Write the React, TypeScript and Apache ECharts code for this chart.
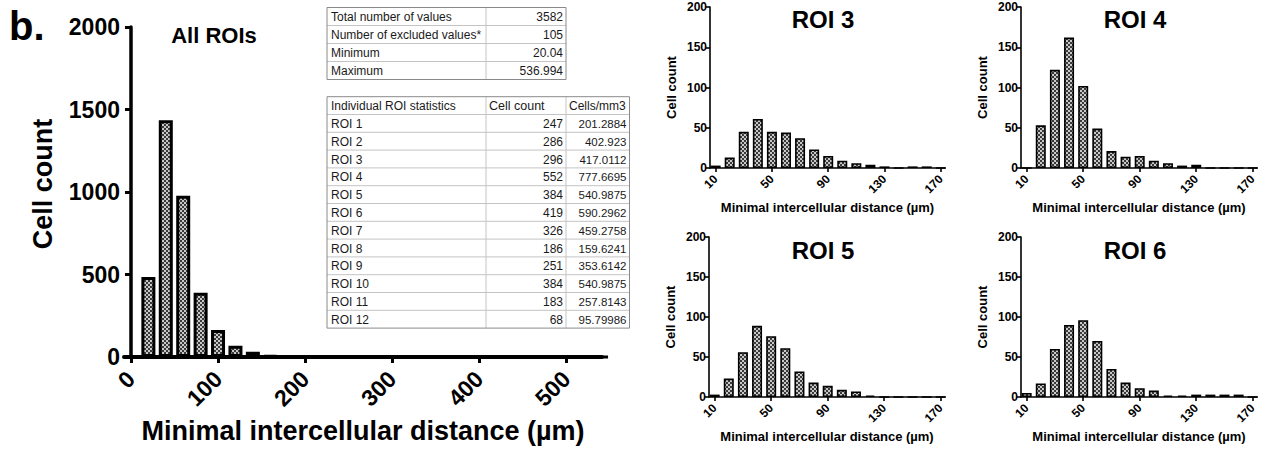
import React, { useEffect, useRef } from "react";
import * as echarts from "echarts";

const FONT = 'Arial, "Liberation Sans", sans-serif';

// ---- All ROIs histogram ----
const mainBins = [0, 20, 40, 60, 80, 100, 120, 140, 160, 180, 200, 220, 240, 260, 280, 300, 320, 340, 360, 380, 400, 420, 440, 460, 480, 500, 520, 540];
const mainCounts = [0, 485, 1435, 978, 390, 163, 68, 32, 9, 6, 5, 4, 6, 5, 3, 2, 2, 2, 1, 1, 1, 2, 1, 1, 1, 1, 1, 1];
const mainXTicks = [0, 100, 200, 300, 400, 500];

// ---- Individual ROI histograms ----
const roiBins = [10, 20, 30, 40, 50, 60, 70, 80, 90, 100, 110, 120, 130, 140, 150, 160, 170];
const roi3 = [3, 13, 45, 61, 45, 44, 37, 23, 15, 9, 6, 4, 2, 0, 2, 2, 0];
const roi4 = [0, 53, 122, 162, 102, 49, 21, 14, 15, 9, 6, 3, 4, 0, 0, 0, 0];
const roi5 = [3, 23, 56, 89, 76, 61, 32, 18, 14, 9, 7, 2, 0, 0, 0, 0, 0];
const roi6 = [5, 17, 60, 90, 96, 70, 35, 18, 11, 8, 2, 2, 3, 3, 3, 3, 0];
const roiXTicks = [10, 50, 90, 130, 170];

// ---- Tables ----
const summaryLabels = ["Total number of values", "Number of excluded values*", "Minimum", "Maximum"];
const summaryValues = ["3582", "105", "20.04", "536.994"];
const roiHeader = ["Individual ROI statistics", "Cell count", "Cells/mm3"];
const roiNames = ["ROI 1", "ROI 2", "ROI 3", "ROI 4", "ROI 5", "ROI 6", "ROI 7", "ROI 8", "ROI 9", "ROI 10", "ROI 11", "ROI 12"];
const roiCounts = ["247", "286", "296", "552", "384", "419", "326", "186", "251", "384", "183", "68"];
const roiDensity = ["201.2884", "402.923", "417.0112", "777.6695", "540.9875", "590.2962", "459.2758", "159.6241", "353.6142", "540.9875", "257.8143", "95.79986"];

function makePattern(): any {
  try {
    const c = document.createElement("canvas");
    c.width = 4;
    c.height = 4;
    const ctx = c.getContext("2d");
    if (!ctx) return "#8c8c8c";
    ctx.fillStyle = "#c8c8c8";
    ctx.fillRect(0, 0, 4, 4);
    ctx.fillStyle = "#3a3a3a";
    ctx.fillRect(0, 0, 2, 2);
    ctx.fillRect(2, 2, 2, 2);
    return { image: c, repeat: "repeat" };
  } catch (e) {
    return "#8c8c8c";
  }
}

function txt(text: string, x: number, y: number, size: number, align: string, opts: any = {}) {
  return {
    type: "text",
    silent: true,
    style: {
      text,
      x,
      y,
      font: `${opts.weight || "normal"} ${size}px ${opts.family || FONT}`,
      fill: opts.color || "#1a1a1a",
      align,
      textAlign: align,
      verticalAlign: opts.va || "middle",
      textVerticalAlign: opts.va || "middle",
    },
  };
}

function hline(x1: number, x2: number, y: number, color: string) {
  return { type: "line", silent: true, shape: { x1, y1: y, x2, y2: y }, style: { stroke: color, lineWidth: 1 } };
}
function vline(x: number, y1: number, y2: number, color: string) {
  return { type: "line", silent: true, shape: { x1: x, y1, x2: x, y2 }, style: { stroke: color, lineWidth: 1 } };
}

function buildTables() {
  const els: any[] = [];
  const inner = "#c4c4c4";
  const outer = "#8a8a8a";
  // table 1
  const t1x = [327, 486, 566];
  const t1top = 7.5;
  const rh1 = 18;
  const t1bottom = t1top + rh1 * summaryLabels.length;
  for (let i = 1; i < summaryLabels.length; i++) els.push(hline(t1x[0], t1x[2], t1top + rh1 * i, inner));
  els.push(vline(t1x[1], t1top, t1bottom, inner));
  els.push({ type: "rect", silent: true, shape: { x: t1x[0], y: t1top, width: t1x[2] - t1x[0], height: t1bottom - t1top }, style: { fill: "none", stroke: outer, lineWidth: 1 } });
  summaryLabels.forEach((l, i) => {
    const cy = t1top + rh1 * i + rh1 / 2 + 0.5;
    els.push(txt(l, t1x[0] + 4, cy, 12, "left"));
    els.push(txt(summaryValues[i], t1x[2] - 3, cy, 12, "right"));
  });
  // table 2
  const t2x = [327, 486, 566, 629.5];
  const t2top = 96.7;
  const rh2 = 17.8;
  const nrows = roiNames.length + 1;
  const t2bottom = t2top + rh2 * nrows;
  for (let i = 1; i < nrows; i++) els.push(hline(t2x[0], t2x[3], t2top + rh2 * i, inner));
  els.push(vline(t2x[1], t2top, t2bottom, inner));
  els.push(vline(t2x[2], t2top, t2bottom, inner));
  els.push({ type: "rect", silent: true, shape: { x: t2x[0], y: t2top, width: t2x[3] - t2x[0], height: t2bottom - t2top }, style: { fill: "none", stroke: outer, lineWidth: 1 } });
  const hy = t2top + rh2 / 2 + 0.5;
  els.push(txt(roiHeader[0], t2x[0] + 4, hy, 12, "left"));
  els.push(txt(roiHeader[1], t2x[1] + 3, hy, 12.5, "left"));
  els.push(txt(roiHeader[2], t2x[2] + 3, hy, 12, "left"));
  roiNames.forEach((n, i) => {
    const cy = t2top + rh2 * (i + 1) + rh2 / 2 + 0.5;
    els.push(txt(n, t2x[0] + 4, cy, 12, "left"));
    els.push(txt(roiCounts[i], t2x[2] - 3, cy, 12, "right"));
    els.push(txt(roiDensity[i], t2x[3] - 3, cy, 11.5, "right"));
  });
  return els;
}

export default function App() {
  const ref = useRef<HTMLDivElement>(null);
  useEffect(() => {
    if (!ref.current) return;
    const chart = echarts.init(ref.current, null, { renderer: "svg" });
    const pattern = makePattern();
    const plain = (v: number) => String(v);

    const grids = [
      { left: 124, top: 27, width: 478, height: 330 },
      { left: 710, top: 7, width: 235, height: 161 },
      { left: 1021, top: 7, width: 236, height: 161 },
      { left: 709, top: 237, width: 236, height: 160 },
      { left: 1021, top: 237, width: 236, height: 160 },
    ].map((g) => ({ ...g, outerBoundsMode: "none", containLabel: false }));

    const smallX = (gi: number) => ({
      type: "value",
      gridIndex: gi,
      min: 6,
      max: 173,
      axisLine: { show: true, onZero: false, lineStyle: { color: "#000", width: 1.6 } },
      axisTick: { show: true, customValues: roiXTicks, length: 4, lineStyle: { color: "#000", width: 1.6 } },
      axisLabel: { customValues: roiXTicks, rotate: 45, fontSize: 12, fontWeight: "bold", color: "#000", margin: 9, fontFamily: FONT, formatter: plain },
      splitLine: { show: false },
      name: "Minimal intercellular distance (µm)",
      nameLocation: "middle",
      nameGap: 33,
      nameTextStyle: { fontSize: 13, fontWeight: "bold", color: "#000", fontFamily: FONT },
    });
    const smallY = (gi: number) => ({
      type: "value",
      gridIndex: gi,
      min: 0,
      max: 200,
      interval: 50,
      axisLine: { show: true, lineStyle: { color: "#000", width: 1.6 } },
      axisTick: { show: true, length: 4, lineStyle: { color: "#000", width: 1.6 } },
      axisLabel: { fontSize: 12, fontWeight: "bold", color: "#000", margin: 3, fontFamily: FONT, formatter: plain },
      splitLine: { show: false },
      name: "Cell count",
      nameLocation: "middle",
      nameRotate: 90,
      nameGap: 32,
      nameTextStyle: { fontSize: 13, fontWeight: "bold", color: "#000", fontFamily: FONT },
    });

    const roiSeries = [roi3, roi4, roi5, roi6].map((vals, k) => ({
      type: "bar",
      name: `ROI ${k + 3}`,
      xAxisIndex: k + 1,
      yAxisIndex: k + 1,
      barWidth: 10,
      data: roiBins.map((b, i) => [b, vals[i]]),
      itemStyle: { color: pattern, borderColor: "#000", borderWidth: 1.6 },
    }));

    const titles = [
      txt("All ROIs", 214, 35, 22, "center", { weight: "bold", color: "#000" }),
      txt("ROI 3", 823, 19, 24, "center", { weight: "bold", color: "#000" }),
      txt("ROI 4", 1135, 19, 24, "center", { weight: "bold", color: "#000" }),
      txt("ROI 5", 823, 250, 24, "center", { weight: "bold", color: "#000" }),
      txt("ROI 6", 1135, 250, 24, "center", { weight: "bold", color: "#000" }),
      txt("b.", 9, 26, 40, "left", { weight: "bold", color: "#000" }),
    ];

    chart.setOption({
      animation: false,
      backgroundColor: "#fff",
      textStyle: { fontFamily: FONT },
      grid: grids,
      xAxis: [
        {
          type: "value",
          gridIndex: 0,
          min: -8,
          max: 541,
          axisLine: { show: true, onZero: false, lineStyle: { color: "#000", width: 4 } },
          axisTick: { show: true, customValues: mainXTicks, length: 6, lineStyle: { color: "#000", width: 3 } },
          axisLabel: { customValues: mainXTicks, rotate: 45, fontSize: 23, fontWeight: "bold", color: "#000", margin: 18, fontFamily: FONT, formatter: plain },
          splitLine: { show: false },
          name: "Minimal intercellular distance (µm)",
          nameLocation: "middle",
          nameGap: 60,
          nameTextStyle: { fontSize: 27, fontWeight: "bold", color: "#000", fontFamily: FONT },
        },
        smallX(1),
        smallX(2),
        smallX(3),
        smallX(4),
      ],
      yAxis: [
        {
          type: "value",
          gridIndex: 0,
          min: 0,
          max: 2000,
          interval: 500,
          axisLine: { show: true, lineStyle: { color: "#000", width: 3.5 } },
          axisTick: { show: true, length: 6, lineStyle: { color: "#000", width: 3 } },
          axisLabel: { fontSize: 23, fontWeight: "bold", color: "#000", margin: 4, fontFamily: FONT, formatter: plain },
          splitLine: { show: false },
          name: "Cell count",
          nameLocation: "middle",
          nameRotate: 90,
          nameGap: 68,
          nameTextStyle: { fontSize: 27, fontWeight: "bold", color: "#000", fontFamily: FONT, padding: [0, 0, 0, 16] },
        },
        smallY(1),
        smallY(2),
        smallY(3),
        smallY(4),
      ],
      series: [
        {
          type: "bar",
          name: "All ROIs",
          xAxisIndex: 0,
          yAxisIndex: 0,
          barWidth: 14,
          data: mainBins.map((b, i) => [b, mainCounts[i]]),
          itemStyle: { color: pattern, borderColor: "#000", borderWidth: 3 },
        },
        ...roiSeries,
      ],
      graphic: { elements: [...buildTables(), ...titles] },
    });
    return () => chart.dispose();
  }, []);
  return <div ref={ref} style={{ position: "fixed", left: 0, top: 0, width: 1265, height: 451, background: "#fff" }} />;
}
